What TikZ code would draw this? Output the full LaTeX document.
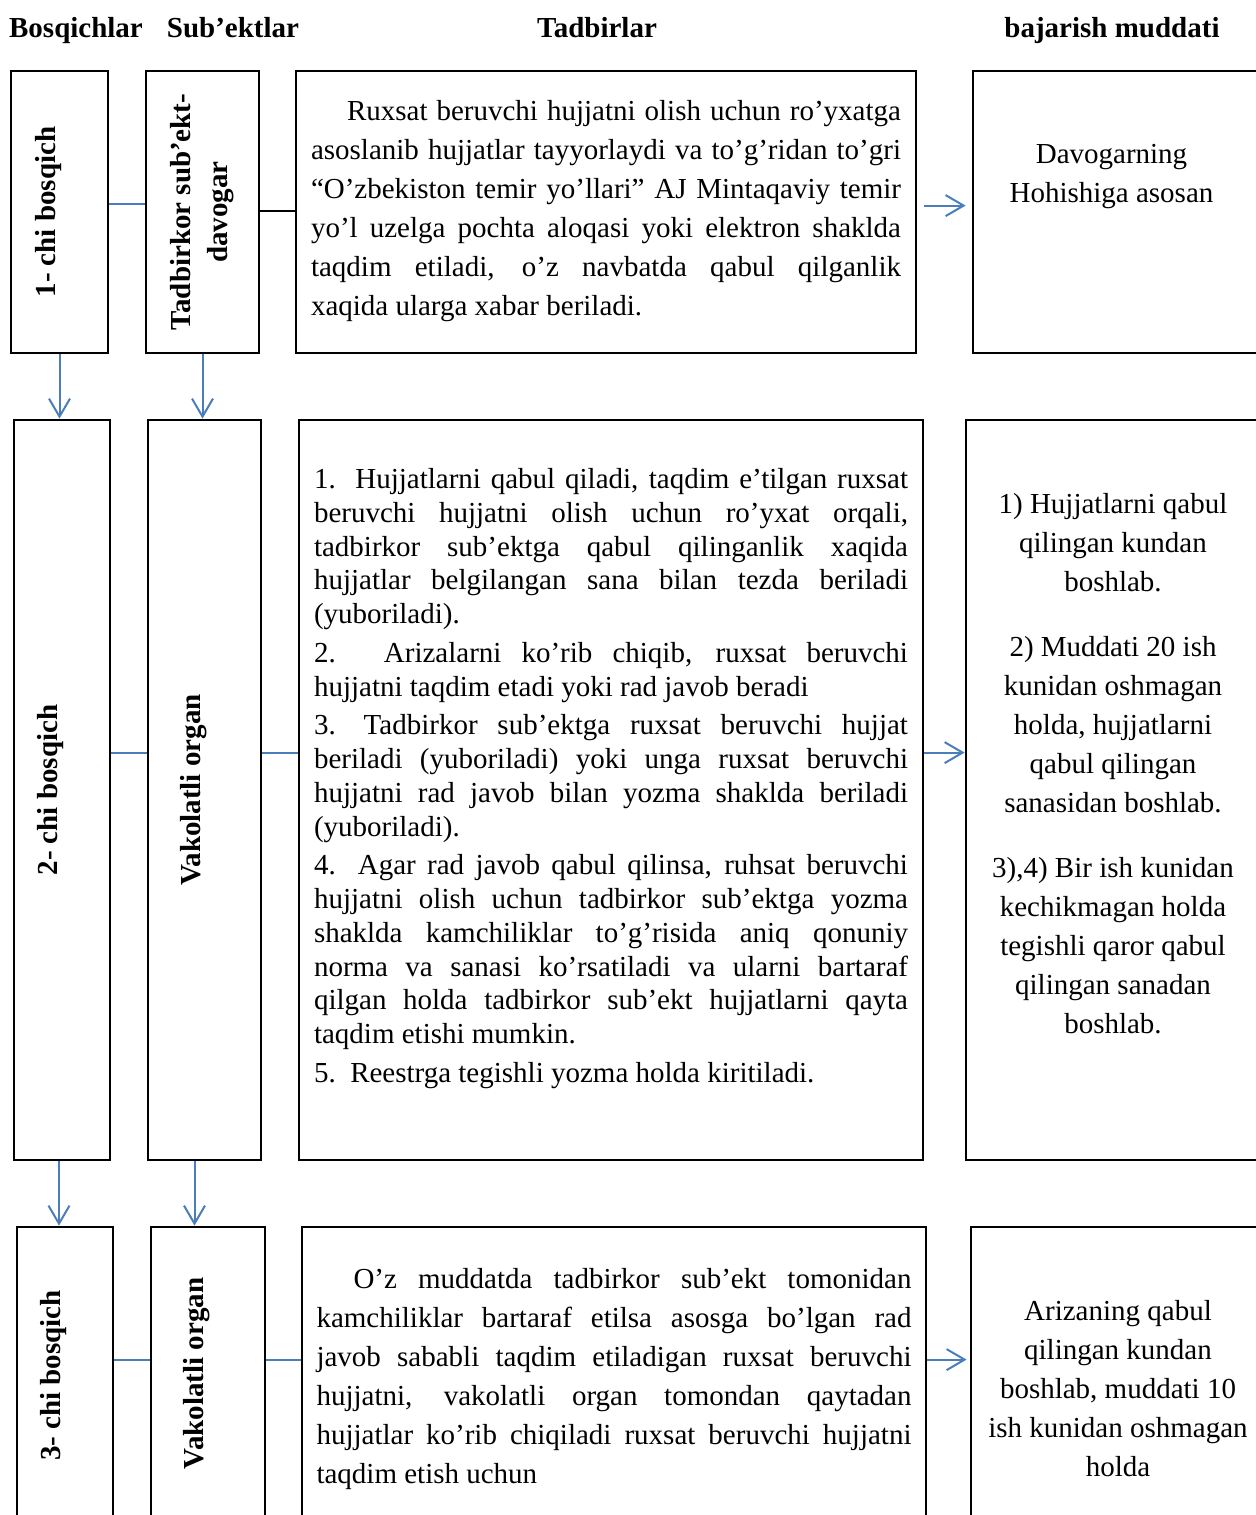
\documentclass[tikz,border=0pt]{standalone}
\usepackage{fontspec}
\setmainfont{Liberation Serif}
\usetikzlibrary{positioning,arrows.meta}
\definecolor{lineblue}{HTML}{4A7EBB}
\newcommand\nohyph{\setlength\parindent{0pt}\hyphenpenalty=10000 \exhyphenpenalty=10000 \tolerance=10000 }

\begin{document}
\begin{tikzpicture}[x=0.5pt,y=-0.5pt,
  box/.style={draw,line width=1.4pt,inner sep=0pt},
  head/.style={anchor=base,font=\fontsize{14.5}{17}\selectfont\bfseries},
  vlab/.style={rotate=90,align=center,inner sep=0pt,font=\fontsize{14.5}{18.5}\selectfont\bfseries},
  body/.style={inner sep=0pt,align=justify,font=\fontsize{14.5}{19.5}\selectfont\nohyph},
  term/.style={inner sep=0pt,align=center,font=\fontsize{14.5}{19.5}\selectfont},
  link/.style={draw=lineblue,line width=1pt},
  flow/.style={link,-{Straight Barb[length=9pt,width=10.5pt]}}]
\useasboundingbox (0,0) rectangle (1256,1515);
\clip (0,0) rectangle (1256,1515);

\node[head] (hd1) at (76,37) {Bosqichlar};
\node[head] (hd2) at (233,37) {Sub’ektlar};
\node[head] (hd3) at (597,37) {Tadbirlar};
\node[head] (hd4) at (1112,37) {bajarish muddati};

\node[box,minimum width=48.5pt,minimum height=141pt] (st1) at (59.5,212) {};
\node[box,minimum width=56.5pt,minimum height=141pt] (sb1) at (202.5,212) {};
\node[box,minimum width=310pt,minimum height=141pt] (td1) at (606,212) {};
\node[box,minimum width=142.5pt,minimum height=141pt] (md1) at (1115.5,212) {};

\node[box,minimum width=48pt,minimum height=370pt] (st2) at (62,790) {};
\node[box,minimum width=56.5pt,minimum height=370pt] (sb2) at (204.5,790) {};
\node[box,minimum width=312pt,minimum height=370pt] (td2) at (611,790) {};
\node[box,minimum width=147pt,minimum height=370pt] (md2) at (1113,790) {};

\node[box,minimum width=48pt,minimum height=156.5pt] (st3) at (65,1383.5) {};
\node[box,minimum width=57pt,minimum height=156.5pt] (sb3) at (208,1383.5) {};
\node[box,minimum width=312pt,minimum height=156.5pt] (td3) at (614,1383.5) {};
\node[box,minimum width=147pt,minimum height=156.5pt] (md3) at (1118,1383.5) {};

\node[vlab] (st1t) at ([xshift=-5.5pt]st1.center) {1- chi bosqich};
\node[vlab] (sb1t) at (sb1.center) {Tadbirkor sub’ekt-\\davogar};
\node[vlab] (st2t) at ([xshift=-5.5pt]st2.center) {2- chi bosqich};
\node[vlab] (sb2t) at ([xshift=-5.5pt]sb2.center) {Vakolatli organ};
\node[vlab] (st3t) at ([xshift=-5.5pt,yshift=4pt]st3.center) {3- chi bosqich};
\node[vlab] (sb3t) at ([xshift=-5.5pt,yshift=5pt]sb3.center) {Vakolatli organ};

\node[body,text width=295pt,below=15.25pt of td1.north] (td1t) {\hspace*{18pt}Ruxsat beruvchi hujjatni olish uchun ro’yxatga \linebreak asoslanib hujjatlar tayyorlaydi va to’g’ridan to’gri \linebreak “O’zbekiston temir yo’llari” AJ Mintaqaviy temir \linebreak yo’l uzelga pochta aloqasi yoki elektron shaklda \linebreak taqdim etiladi, o’z navbatda qabul qilganlik \linebreak xaqida ularga xabar beriladi.};
\node[body,text width=297pt,below=24.75pt of td2.north,
  font=\fontsize{14.5}{16.85}\selectfont\nohyph\setlength\parskip{2.6pt}] (td2t)
  {1.\ \ Hujjatlarni qabul qiladi, taqdim e’tilgan ruxsat \linebreak beruvchi hujjatni olish uchun ro’yxat orqali, \linebreak tadbirkor sub’ektga qabul qilinganlik xaqida \linebreak hujjatlar belgilangan sana bilan tezda beriladi \linebreak (yuboriladi).\par
  2. Arizalarni ko’rib chiqib, ruxsat beruvchi \linebreak hujjatni taqdim etadi yoki rad javob beradi\par
  3.\hspace{14pt}Tadbirkor sub’ektga ruxsat beruvchi hujjat \linebreak beriladi (yuboriladi) yoki unga ruxsat beruvchi \linebreak hujjatni rad javob bilan yozma shaklda beriladi \linebreak (yuboriladi).\par
  4. Agar rad javob qabul qilinsa, ruhsat beruvchi \linebreak hujjatni olish uchun tadbirkor sub’ektga yozma \linebreak shaklda kamchiliklar to’g’risida aniq qonuniy \linebreak norma va sanasi ko’rsatiladi va ularni bartaraf \linebreak qilgan holda tadbirkor sub’ekt hujjatlarni qayta \linebreak taqdim etishi mumkin.\par
  5.\ \ Reestrga tegishli yozma holda kiritiladi.};
\node[body,text width=297.5pt,below=21.25pt of td3.north] (td3t) {\hspace*{18.5pt}O’z muddatda tadbirkor sub’ekt tomonidan \linebreak kamchiliklar bartaraf etilsa asosga bo’lgan rad \linebreak javob sababli taqdim etiladigan ruxsat beruvchi \linebreak hujjatni, vakolatli organ tomondan qaytadan \linebreak hujjatlar ko’rib chiqiladi ruxsat beruvchi hujjatni \linebreak taqdim etish uchun};

\node[term,below=37.25pt of md1.north,xshift=-2pt] (md1t) {Davogarning\\Hohishiga asosan};
\node[term,below=37pt of md2.north] (md2t) {1) Hujjatlarni qabul\\qilingan kundan\\boshlab.\\[13pt]2) Muddati 20 ish\\kunidan oshmagan\\holda, hujjatlarni\\qabul qilingan\\sanasidan boshlab.\\[13pt]3),4) Bir ish kunidan\\kechikmagan holda\\tegishli qaror qabul\\qilingan sanadan\\boshlab.};
\node[term,below=37.25pt of md3.north] (md3t) {Arizaning qabul\\qilingan kundan\\boshlab, muddati 10\\ish kunidan oshmagan\\holda};

\draw[link] ([yshift=-67pt]st1.north east) -- ([yshift=-67pt]sb1.north west);
\draw[line width=1pt] ([yshift=-70.5pt]sb1.north east) -- ([yshift=-70.5pt]td1.north west);
\draw[flow] ([xshift=3.5pt,yshift=-68pt]td1.north east) -- ([xshift=-3pt,yshift=-68pt]md1.north west);

\draw[link] ([yshift=-167pt]st2.north east) -- ([yshift=-167pt]sb2.north west);
\draw[link] ([yshift=-167pt]sb2.north east) -- ([yshift=-167pt]td2.north west);
\draw[flow] ([yshift=-167pt]td2.north east) -- ([yshift=-167pt]md2.north west);

\draw[link] ([yshift=-67pt]st3.north east) -- ([yshift=-67pt]sb3.north west);
\draw[link] ([yshift=-67pt]sb3.north east) -- ([yshift=-67pt]td3.north west);
\draw[flow] ([yshift=-67pt]td3.north east) -- ([xshift=-1.5pt,yshift=-67pt]md3.north west);

\coordinate (dn3) at ([xshift=-1.5pt]st2.south);
\coordinate (dn4) at ([xshift=-5pt]sb2.south);
\draw[flow] (st1.south) -- (st1.south |- st2.north);
\draw[flow] (sb1.south) -- (sb1.south |- sb2.north);
\draw[flow] (dn3) -- (dn3 |- st3.north);
\draw[flow] (dn4) -- (dn4 |- sb3.north);
\end{tikzpicture}
\end{document}
